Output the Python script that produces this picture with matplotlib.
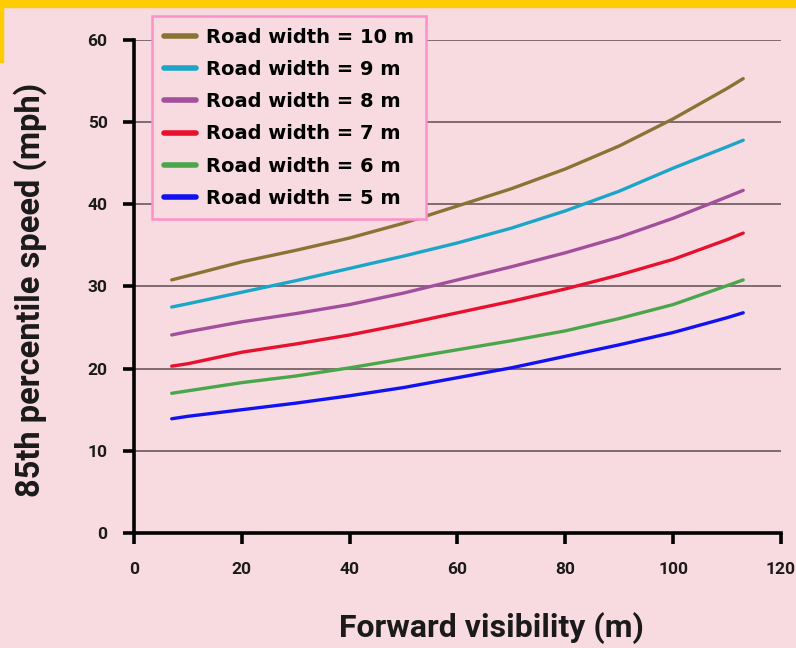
import matplotlib.pyplot as plt
from matplotlib.patches import Rectangle

# Data
visibility = [7, 10, 20, 30, 40, 50, 60, 70, 80, 90, 100, 110, 113]
speed_10m = [30.8, 31.3, 33.0, 34.4, 35.9, 37.7, 39.8, 41.9, 44.3, 47.1, 50.4, 54.1, 55.3]
speed_9m = [27.5, 27.9, 29.3, 30.7, 32.2, 33.7, 35.3, 37.1, 39.2, 41.6, 44.4, 47.0, 47.8]
speed_8m = [24.1, 24.5, 25.7, 26.7, 27.8, 29.2, 30.8, 32.4, 34.1, 36.0, 38.3, 40.9, 41.7]
speed_7m = [20.3, 20.6, 22.0, 23.0, 24.1, 25.4, 26.8, 28.2, 29.7, 31.4, 33.3, 35.7, 36.5]
speed_6m = [17.0, 17.3, 18.3, 19.1, 20.1, 21.2, 22.3, 23.4, 24.6, 26.1, 27.8, 30.1, 30.8]
speed_5m = [13.9, 14.2, 15.0, 15.8, 16.7, 17.7, 18.9, 20.1, 21.5, 22.9, 24.4, 26.2, 26.8]

labels = ["Road width = 10 m", "Road width = 9 m", "Road width = 8 m",
          "Road width = 7 m", "Road width = 6 m", "Road width = 5 m"]
colors = ["#8a7334", "#1ba6c9", "#a24f9c", "#e8112d", "#4aa64a", "#1212f0"]
series = [speed_10m, speed_9m, speed_8m, speed_7m, speed_6m, speed_5m]

x_ticks = [0, 20, 40, 60, 80, 100, 120]
y_ticks = [0, 10, 20, 30, 40, 50, 60]

bg = "#f7dbe0"
font = ["Roboto", "DejaVu Sans"]

fig = plt.figure(figsize=(7.96, 6.48), dpi=100, facecolor=bg)
ax = fig.add_axes([0.1683, 0.1775, 0.8128, 0.7608])
ax.set_facecolor(bg)

# yellow frame remnants at the top / left
fig.patches.append(Rectangle((0, 1 - 7 / 648), 1, 7 / 648, transform=fig.transFigure,
                             color="#ffcc00", zorder=0))
fig.patches.append(Rectangle((0, 1 - 62 / 648), 3 / 796, 62 / 648, transform=fig.transFigure,
                             color="#ffcc00", zorder=0))

for vals, c, lab in zip(series, colors, labels):
    ax.plot(visibility, vals, color=c, lw=2.4, label=lab, solid_capstyle="round", zorder=3)

ax.set_xlim(0, 120)
ax.set_ylim(0, 60)
ax.set_xticks(x_ticks)
ax.set_yticks(y_ticks)
ax.grid(axis="y", color="#5e4c52", lw=1.1)
ax.set_axisbelow(True)

for s in ["top", "right"]:
    ax.spines[s].set_visible(False)
for s in ["left", "bottom"]:
    ax.spines[s].set_linewidth(2.6)
    ax.spines[s].set_color("black")

ax.tick_params(axis="both", direction="out", length=8, width=2.6, colors="black",
               labelsize=12.5, pad=13)
ax.tick_params(axis="y", pad=11)
for t in ax.get_xticklabels() + ax.get_yticklabels():
    t.set_fontweight("bold")
    t.set_family(font)
    t.set_color("#1a1a1a")

ax.set_xlabel("Forward visibility (m)", fontsize=23, fontweight="bold", family=font,
              color="#1a1a1a")
ax.set_ylabel("85th percentile speed (mph)", fontsize=23.5, fontweight="bold", family=font,
              color="#1a1a1a")
ax.xaxis.set_label_coords(0.553, -0.161)
ax.yaxis.set_label_coords(-0.135, 0.494)

leg = ax.legend(loc="upper left", bbox_to_anchor=(152 / 796, 1 - 16 / 648),
                bbox_transform=fig.transFigure, frameon=True, fancybox=False,
                borderaxespad=0, prop={"weight": "bold", "size": 14}, handlelength=1.65,
                labelspacing=0.68, borderpad=0.6, handletextpad=0.55)
leg.get_frame().set_facecolor(bg)
leg.get_frame().set_edgecolor("#ff8fc8")
leg.get_frame().set_linewidth(1.8)
leg.get_frame().set_alpha(1)
for h in leg.get_lines():
    h.set_linewidth(4)
leg.set_zorder(5)

plt.savefig("out.png", dpi=100, facecolor=bg)
